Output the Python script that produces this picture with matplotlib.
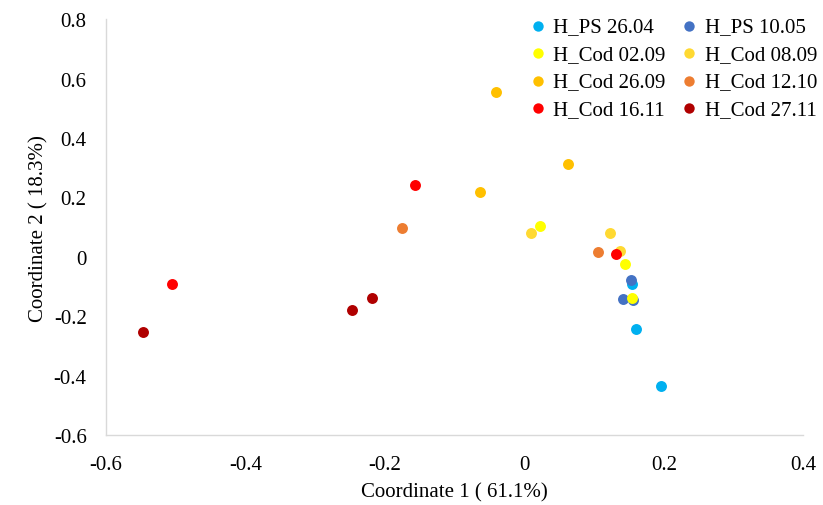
import matplotlib
matplotlib.use("Agg")
import matplotlib.pyplot as plt

plt.rcParams['font.family'] = ['Liberation Serif', 'DejaVu Serif']

series_names = ["H_PS 26.04", "H_PS 10.05", "H_Cod 02.09", "H_Cod 08.09",
                "H_Cod 26.09", "H_Cod 12.10", "H_Cod 16.11", "H_Cod 27.11"]
colors = ["#00B0F0", "#4472C4", "#FFFF00", "#FFD932",
          "#FFC000", "#ED7D31", "#FF0000", "#B00000"]

x_ps_2604 = [0.155, 0.160, 0.196]
y_ps_2604 = [-0.092, -0.244, -0.433]
x_ps_1005 = [0.153, 0.141, 0.156]
y_ps_1005 = [-0.078, -0.142, -0.146]
x_cod_0209 = [0.155, 0.144, 0.023]
y_cod_0209 = [-0.139, -0.024, 0.105]
x_cod_0809 = [0.137, 0.123, 0.009]
y_cod_0809 = [0.021, 0.081, 0.080]
x_cod_2609 = [-0.041, 0.062, -0.063]
y_cod_2609 = [0.556, 0.314, 0.220]
x_cod_1210 = [-0.176, 0.105]
y_cod_1210 = [0.097, 0.015]
x_cod_1611 = [-0.157, -0.506, 0.132]
y_cod_1611 = [0.243, -0.091, 0.009]
x_cod_2711 = [-0.219, -0.247, -0.547]
y_cod_2711 = [-0.139, -0.179, -0.253]

xs = [x_ps_2604, x_ps_1005, x_cod_0209, x_cod_0809, x_cod_2609, x_cod_1210, x_cod_1611, x_cod_2711]
ys = [y_ps_2604, y_ps_1005, y_cod_0209, y_cod_0809, y_cod_2609, y_cod_1210, y_cod_1611, y_cod_2711]

x_ticks = [-0.6, -0.4, -0.2, 0, 0.2, 0.4]
x_tick_labels = ["-0.6", "-0.4", "-0.2", "0", "0.2", "0.4"]
y_ticks = [-0.6, -0.4, -0.2, 0, 0.2, 0.4, 0.6, 0.8]
y_tick_labels = ["-0.6", "-0.4", "-0.2", "0", "0.2", "0.4", "0.6", "0.8"]

fig = plt.figure(figsize=(8.23, 5.06), dpi=100)
ax = fig.add_axes([0.129, 0.138, 0.847, 0.822])

handles = []
for name, c, x, y in zip(series_names, colors, xs, ys):
    h = ax.scatter(x, y, s=62, color=c, label=name, linewidths=0, zorder=3)
    handles.append(h)

ax.set_xlim(-0.6, 0.4)
ax.set_ylim(-0.6, 0.8)
ax.set_xticks(x_ticks)
ax.set_xticklabels(x_tick_labels)
ax.set_yticks(y_ticks)
ax.set_yticklabels(y_tick_labels)
ax.tick_params(axis="y", length=0, labelsize=15, pad=14, colors="#000000")
ax.tick_params(axis="x", length=0, labelsize=15, pad=14, colors="#000000")
for s in ["top", "right"]:
    ax.spines[s].set_visible(False)
for s in ["left", "bottom"]:
    ax.spines[s].set_color("#D9D9D9")
    ax.spines[s].set_linewidth(1.0)

ax.set_xlabel("Coordinate 1 ( 61.1%)", fontsize=15, labelpad=6)
ax.set_ylabel("Coordinate 2 ( 18.3%)", fontsize=15, labelpad=4)

# row-major legend order (2 columns)
order = [0, 2, 4, 6, 1, 3, 5, 7]
leg = fig.legend([handles[i] for i in order], [series_names[i] for i in order],
                 loc="upper right", bbox_to_anchor=(1.011, 0.994), ncol=2, fontsize=15,
                 frameon=False, handletextpad=0.15, columnspacing=0.55,
                 labelspacing=0.38, borderaxespad=0.3, markerscale=0.95,
                 handlelength=1.2)

fig.savefig("out.png", dpi=100, facecolor="white")
